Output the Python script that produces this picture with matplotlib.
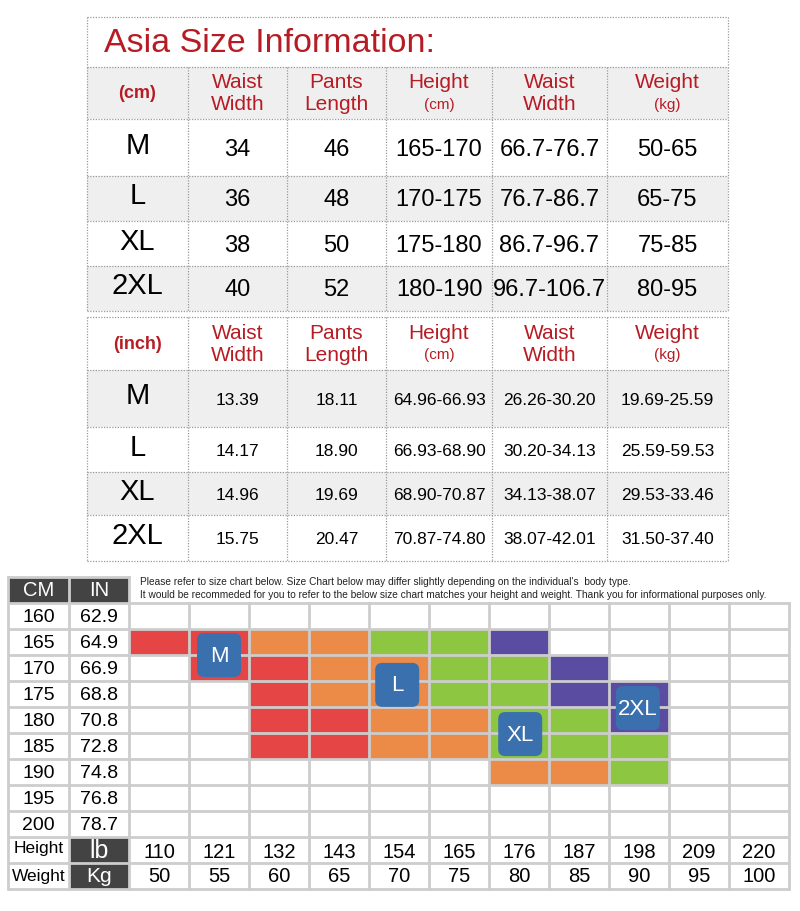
import matplotlib
matplotlib.use("Agg")
import matplotlib.pyplot as plt
from matplotlib.patches import Rectangle, FancyBboxPatch

# Asia size tables
sizes = ["M", "L", "XL", "2XL"]
cm_waist = ["34", "36", "38", "40"]
cm_pants = ["46", "48", "50", "52"]
cm_height = ["165-170", "170-175", "175-180", "180-190"]
cm_waist2 = ["66.7-76.7", "76.7-86.7", "86.7-96.7", "96.7-106.7"]
cm_weight = ["50-65", "65-75", "75-85", "80-95"]

inch_waist = ["13.39", "14.17", "14.96", "15.75"]
inch_pants = ["18.11", "18.90", "19.69", "20.47"]
inch_height = ["64.96-66.93", "66.93-68.90", "68.90-70.87", "70.87-74.80"]
inch_waist2 = ["26.26-30.20", "30.20-34.13", "34.13-38.07", "38.07-42.01"]
inch_weight = ["19.69-25.59", "25.59-59.53", "29.53-33.46", "31.50-37.40"]

headers = [("Waist", "Width"), ("Pants", "Length"), ("Height", "(cm)"),
           ("Waist", "Width"), ("Weight", "(kg)")]

# height / weight fit chart
heights_cm = ["160", "165", "170", "175", "180", "185", "190", "195", "200"]
heights_in = ["62.9", "64.9", "66.9", "68.8", "70.8", "72.8", "74.8", "76.8", "78.7"]
weights_lb = ["110", "121", "132", "143", "154", "165", "176", "187", "198", "209", "220"]
weights_kg = ["50", "55", "60", "65", "70", "75", "80", "85", "90", "95", "100"]
fit_grid = [
    "...........",
    "RROOGGP....",
    ".RROOGGP...",
    "..ROOGGPP..",
    "..RROOGGP..",
    "..RROOGGG..",
    "......OOG..",
    "...........",
    "...........",
]
badge_labels = ["M", "L", "XL", "2XL"]
badge_col = [1.5, 4.47, 6.52, 8.48]
badge_row = [2.0, 3.15, 5.04, 4.04]

fit_colors = {"R": "#e64546", "O": "#ec8a48", "G": "#8dc641", "P": "#5a4ca0"}
RED_TXT = "#b71c24"
GREY_BG = "#efefef"
DOT = "#9a9a9a"
DARK = "#434343"
GRID = "#cdcdcd"
BADGE = "#3a70ae"

NARROW = ["Liberation Sans Narrow", "Liberation Sans", "DejaVu Sans"]
plt.rcParams["font.family"] = ["Liberation Sans", "DejaVu Sans"]

fig = plt.figure(figsize=(8, 9.11), dpi=100)
ax = fig.add_axes([0, 0, 1, 1])
ax.set_xlim(0, 800)
ax.set_ylim(911, 0)
ax.axis("off")

col_x = [87, 188, 287, 386, 492, 607, 728]


def dotted(x0, y0, x1, y1):
    ax.plot([x0, x1], [y0, y1], color=DOT, lw=0.9, ls=(0, (1, 1.2)))


def size_table(unit, row_edges, shade, cols, numsize):
    # row_edges: header top, header bottom, then each data row bottom
    for i in range(len(row_edges) - 1):
        if shade[i]:
            ax.add_patch(Rectangle((col_x[0], row_edges[i]), col_x[-1] - col_x[0],
                                   row_edges[i + 1] - row_edges[i], color=GREY_BG, lw=0))
    for y in row_edges:
        dotted(col_x[0], y, col_x[-1], y)
    for x in col_x:
        dotted(x, row_edges[0], x, row_edges[-1])
    hy = (row_edges[0] + row_edges[1]) / 2
    ax.text((col_x[0] + col_x[1]) / 2, hy + 1, unit, color=RED_TXT, fontsize=13,
            fontweight="bold", ha="center", va="center", family=NARROW)
    for j, (a, b) in enumerate(headers):
        cx = (col_x[j + 1] + col_x[j + 2]) / 2
        ax.text(cx, hy - 10, a, color=RED_TXT, fontsize=15, ha="center", va="center", family=NARROW)
        small = b.startswith("(")
        ax.text(cx, hy + 12, b, color=RED_TXT, fontsize=11 if small else 15,
                ha="center", va="center", family=NARROW)
    for i, s in enumerate(sizes):
        cy = (row_edges[i + 1] + row_edges[i + 2]) / 2
        ax.text((col_x[0] + col_x[1]) / 2, cy - 2, s, fontsize=21, ha="center", va="center",
                family=NARROW)
        for j, vals in enumerate(cols):
            cx = (col_x[j + 1] + col_x[j + 2]) / 2
            ax.text(cx, cy + 2, vals[i], fontsize=numsize, ha="center", va="center",
                    family=NARROW)


# title box of first table
dotted(col_x[0], 17, col_x[-1], 17)
dotted(col_x[0], 17, col_x[0], 67)
dotted(col_x[-1], 17, col_x[-1], 67)
ax.text(104, 43, "Asia Size Information:", color=RED_TXT, fontsize=24.5, ha="left",
        va="center")

size_table("(cm)", [67, 119, 176, 221, 266, 311],
           [True, False, True, False, True],
           [cm_waist, cm_pants, cm_height, cm_waist2, cm_weight], 17)
size_table("(inch)", [317, 370, 427, 472, 515, 561],
           [False, True, False, True, False],
           [inch_waist, inch_pants, inch_height, inch_waist2, inch_weight], 12.5)

# ---- fit chart ----
gx0, cw = 129, 60
gy0, rh = 603, 26
left_x = [8, 69, 129]
ncol = len(weights_kg)
nrow = len(heights_cm) + 2
gx1 = gx0 + cw * ncol
gy1 = gy0 + rh * nrow

# header row
ax.add_patch(Rectangle((left_x[0], 577), left_x[1] - left_x[0], gy0 - 577, color=DARK, lw=0))
ax.add_patch(Rectangle((left_x[1], 577), left_x[2] - left_x[1], gy0 - 577, color=DARK, lw=0))
ax.text(38.5, 590, "CM", color="white", fontsize=14.5, ha="center", va="center")
ax.text(99, 590, "IN", color="white", fontsize=14.5, ha="center", va="center")
ax.text(140, 582, "Please refer to size chart below. Size Chart below may differ slightly "
        "depending on the individual's  body type.", fontsize=7.3, ha="left", va="center",
        color="#222222")
ax.text(140, 595, "It would be recommeded for you to refer to the below size chart matches "
        "your height and weight. Thank you for informational purposes only.", fontsize=7.3,
        ha="left", va="center", color="#222222")

# coloured fit cells
for r, row in enumerate(fit_grid):
    for c, code in enumerate(row):
        if code in fit_colors:
            ax.add_patch(Rectangle((gx0 + c * cw, gy0 + r * rh), cw, rh,
                                   color=fit_colors[code], lw=0))

# dark unit cells
ax.add_patch(Rectangle((left_x[1], gy0 + 9 * rh), left_x[2] - left_x[1], 2 * rh, color=DARK, lw=0))

# grid lines
for k in range(nrow + 1):
    y = gy0 + k * rh
    ax.plot([left_x[0], gx1], [y, y], color=GRID, lw=2, solid_capstyle="butt", zorder=3)
ax.plot([left_x[0], left_x[2]], [577, 577], color=GRID, lw=2, zorder=3)
for x in left_x:
    ax.plot([x, x], [577, gy1], color=GRID, lw=2, zorder=3)
for c in range(1, ncol + 1):
    x = gx0 + c * cw
    ax.plot([x, x], [gy0, gy1], color=GRID, lw=2, zorder=3)

# left labels
for r, (hc, hi) in enumerate(zip(heights_cm, heights_in)):
    cy = gy0 + r * rh + rh / 2 + 1
    ax.text(38.5, cy, hc, fontsize=14, ha="center", va="center")
    ax.text(99, cy, hi, fontsize=14, ha="center", va="center")

ly = gy0 + 9 * rh + rh / 2
ky = gy0 + 10 * rh + rh / 2
ax.text(38.5, ly - 1, "Height", fontsize=12.5, ha="center", va="center")
ax.text(38.5, ky + 1, "Weight", fontsize=12.5, ha="center", va="center")
ax.text(99, ly + 1, "lb", color="white", fontsize=18, ha="center", va="center", zorder=4)
ax.text(99, ky + 1, "Kg", color="white", fontsize=15, ha="center", va="center", zorder=4)
for c, (lb, kg) in enumerate(zip(weights_lb, weights_kg)):
    cx = gx0 + c * cw + cw / 2
    ax.text(cx, ly + 3, lb, fontsize=14.5, ha="center", va="center")
    ax.text(cx, ky + 1, kg, fontsize=14.5, ha="center", va="center")

# size badges
bs = 44
for lab, bc, br in zip(badge_labels, badge_col, badge_row):
    cx = gx0 + bc * cw
    cy = gy0 + br * rh
    ax.add_patch(FancyBboxPatch((cx - bs / 2, cy - bs / 2), bs, bs,
                                boxstyle="round,pad=0,rounding_size=7",
                                fc=BADGE, ec="none", zorder=5))
    ax.text(cx, cy + 1, lab, color="white", fontsize=16, ha="center", va="center", zorder=6)

fig.savefig("out.png", dpi=100)
